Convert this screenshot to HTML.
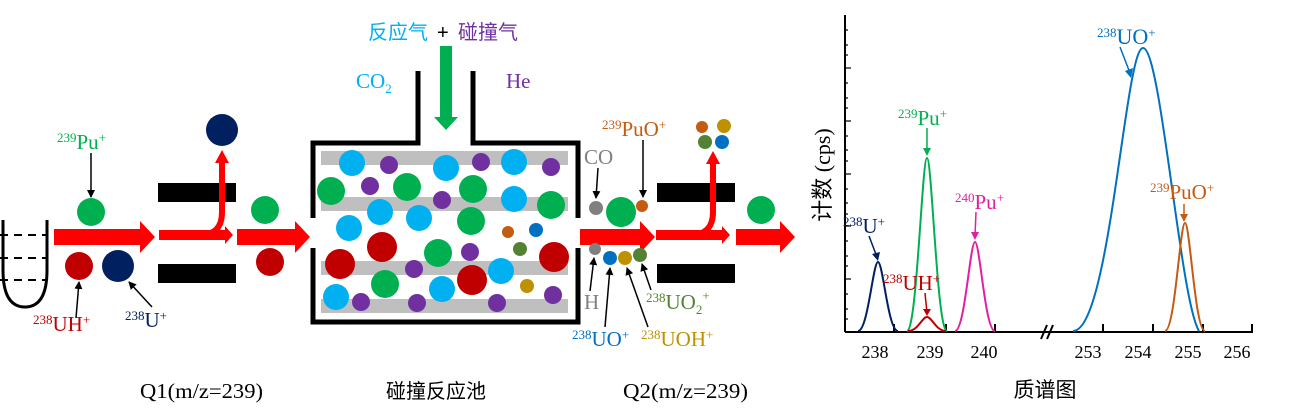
<!DOCTYPE html>
<html><head><meta charset="utf-8"><style>
html,body{margin:0;padding:0;background:#fff;}
svg{display:block;}
text{font-family:"Liberation Serif","Noto Serif CJK SC",serif;}
.cjk{font-family:"Liberation Sans","Noto Sans CJK SC",sans-serif;}
</style></head><body>
<svg width="1302" height="417" viewBox="0 0 1302 417" xmlns="http://www.w3.org/2000/svg">
<defs>
<marker id="ak" markerWidth="8" markerHeight="8" refX="7" refY="4" orient="auto" markerUnits="userSpaceOnUse"><path d="M0,0 L8,4 L0,8 z" fill="#000"/></marker>
</defs>
<path d="M3,220 L3,270 Q3,307 25,307 Q47,307 47,270 L47,220" fill="none" stroke="#000" stroke-width="3"/>
<g stroke="#000" stroke-width="2" stroke-dasharray="8,6"><line x1="0" y1="235" x2="46" y2="235"/><line x1="0" y1="258" x2="46" y2="258"/><line x1="0" y1="280" x2="46" y2="280"/></g>
<path d="M54,229 L140,229 L140,221 L155,237 L140,253 L140,245 L54,245 z" fill="#f00"/>
<circle cx="91" cy="212" r="14" fill="#00b050"/>
<circle cx="79" cy="266" r="14" fill="#c00000"/>
<circle cx="118" cy="266" r="16" fill="#002060"/>
<text x="57" y="149" font-size="21" fill="#00b050"><tspan font-size="13" dy="-7">239</tspan><tspan dy="7">Pu</tspan><tspan font-size="13" dy="-7">+</tspan></text>
<line x1="91" y1="153" x2="91" y2="197" stroke="#000" stroke-width="1.5" marker-end="url(#ak)"/>
<line x1="76" y1="318" x2="79" y2="282" stroke="#000" stroke-width="1.5" marker-end="url(#ak)"/>
<line x1="152" y1="307" x2="129" y2="282" stroke="#000" stroke-width="1.5" marker-end="url(#ak)"/>
<text x="33" y="331" font-size="21" fill="#c00000"><tspan font-size="13" dy="-7">238</tspan><tspan dy="7">UH</tspan><tspan font-size="13" dy="-7">+</tspan></text>
<text x="125" y="327" font-size="21" fill="#002060"><tspan font-size="13" dy="-7">238</tspan><tspan dy="7">U</tspan><tspan font-size="13" dy="-7">+</tspan></text>
<rect x="158" y="183" width="78" height="19" fill="#000"/>
<rect x="158" y="264" width="78" height="19" fill="#000"/>
<path d="M159,230 L225,230 L225,226 L233,235 L225,244 L225,240 L159,240 z" fill="#f00"/>
<path d="M200,235 Q222,235 222,212 L222,160" fill="none" stroke="#f00" stroke-width="6"/>
<path d="M215,163 L222,150 L229,163 z" fill="#f00"/>
<circle cx="222" cy="130" r="16" fill="#002060"/>
<path d="M237,229 L295,229 L295,221 L310,237 L295,253 L295,245 L237,245 z" fill="#f00"/>
<circle cx="265" cy="210" r="14" fill="#00b050"/>
<circle cx="270" cy="262" r="14" fill="#c00000"/>
<text x="368" y="39" font-size="20" fill="#00b0f0" class="cjk">反应气</text>
<text x="437" y="39" font-size="20" fill="#000" class="cjk">+</text>
<text x="458" y="39" font-size="20" fill="#7030a0" class="cjk">碰撞气</text>
<path d="M440,46 L452,46 L452,117 L458,117 L446,130 L434,117 L440,117 z" fill="#00b050"/>
<text x="356" y="88" font-size="21" fill="#00b0f0">CO<tspan font-size="13" dy="5">2</tspan></text>
<text x="506" y="88" font-size="21" fill="#7030a0">He</text>
<path d="M313,218 L313,143 L418,143 L418,71 M473,71 L473,143 L578,143 L578,218 M578,248 L578,322 L313,322 L313,248" fill="none" stroke="#000" stroke-width="5"/>
<g fill="#bfbfbf"><rect x="321" y="151" width="247" height="14"/><rect x="321" y="197" width="247" height="14"/><rect x="321" y="261" width="247" height="14"/><rect x="321" y="299" width="247" height="14"/></g>
<g fill="#00b0f0"><circle cx="352" cy="163" r="13"/><circle cx="446" cy="168" r="13"/><circle cx="514" cy="162" r="13"/><circle cx="514" cy="199" r="13"/><circle cx="380" cy="212" r="13"/><circle cx="419" cy="218" r="13"/><circle cx="349" cy="228" r="13"/><circle cx="501" cy="271" r="13"/><circle cx="442" cy="289" r="13"/><circle cx="336" cy="297" r="13"/></g>
<g fill="#7030a0"><circle cx="389" cy="165" r="9"/><circle cx="481" cy="162" r="9"/><circle cx="551" cy="167" r="9"/><circle cx="370" cy="186" r="9"/><circle cx="442" cy="200" r="9"/><circle cx="470" cy="252" r="9"/><circle cx="414" cy="269" r="9"/><circle cx="361" cy="302" r="9"/><circle cx="417" cy="303" r="9"/><circle cx="497" cy="303" r="9"/><circle cx="553" cy="295" r="9"/></g>
<g fill="#00b050"><circle cx="331" cy="191" r="14"/><circle cx="407" cy="187" r="14"/><circle cx="473" cy="189" r="14"/><circle cx="551" cy="205" r="14"/><circle cx="471" cy="221" r="14"/><circle cx="438" cy="253" r="14"/><circle cx="385" cy="284" r="14"/></g>
<g fill="#c00000"><circle cx="382" cy="247" r="15"/><circle cx="554" cy="257" r="15"/><circle cx="340" cy="264" r="15"/><circle cx="472" cy="280" r="15"/></g>
<circle cx="508" cy="232" r="6" fill="#c55a11"/>
<circle cx="536" cy="230" r="7" fill="#0070c0"/>
<circle cx="520" cy="249" r="7" fill="#548235"/>
<circle cx="527" cy="286" r="7" fill="#bf9000"/>
<path d="M580,229 L640,229 L640,221 L655,237 L640,253 L640,245 L580,245 z" fill="#f00"/>
<circle cx="596" cy="208" r="7" fill="#808080"/>
<circle cx="621" cy="212" r="15" fill="#00b050"/>
<circle cx="642" cy="206" r="6" fill="#c55a11"/>
<circle cx="595" cy="249" r="6" fill="#808080"/>
<circle cx="610" cy="258" r="7" fill="#0070c0"/>
<circle cx="625" cy="258" r="7" fill="#bf9000"/>
<circle cx="640" cy="255" r="7" fill="#548235"/>
<text x="584" y="164" font-size="21" fill="#808080">CO</text>
<line x1="598" y1="168" x2="596" y2="198" stroke="#000" stroke-width="1.5" marker-end="url(#ak)"/>
<text x="602" y="136" font-size="21" fill="#c55a11"><tspan font-size="13" dy="-7">239</tspan><tspan dy="7">PuO</tspan><tspan font-size="13" dy="-7">+</tspan></text>
<line x1="643" y1="140" x2="643" y2="197" stroke="#000" stroke-width="1.5" marker-end="url(#ak)"/>
<text x="584" y="309" font-size="21" fill="#808080">H</text>
<line x1="590" y1="291" x2="594" y2="258" stroke="#000" stroke-width="1.5" marker-end="url(#ak)"/>
<text x="572" y="346" font-size="21" fill="#0070c0"><tspan font-size="13" dy="-7">238</tspan><tspan dy="7">UO</tspan><tspan font-size="13" dy="-7">+</tspan></text>
<line x1="605" y1="327" x2="610" y2="268" stroke="#000" stroke-width="1.5" marker-end="url(#ak)"/>
<text x="641" y="346" font-size="21" fill="#bf9000"><tspan font-size="13" dy="-7">238</tspan><tspan dy="7">UOH</tspan><tspan font-size="13" dy="-7">+</tspan></text>
<line x1="648" y1="327" x2="627" y2="268" stroke="#000" stroke-width="1.5" marker-end="url(#ak)"/>
<text x="646" y="309" font-size="21" fill="#548235"><tspan font-size="13" dy="-7">238</tspan><tspan dy="7">UO</tspan><tspan font-size="13" dy="5">2</tspan><tspan font-size="13" dy="-14">+</tspan></text>
<line x1="651" y1="290" x2="642" y2="264" stroke="#000" stroke-width="1.5" marker-end="url(#ak)"/>
<rect x="657" y="183" width="78" height="19" fill="#000"/>
<rect x="657" y="264" width="78" height="19" fill="#000"/>
<path d="M656,230 L722,230 L722,226 L730,235 L722,244 L722,240 L656,240 z" fill="#f00"/>
<path d="M690,235 Q713,235 713,212 L713,162" fill="none" stroke="#f00" stroke-width="6"/>
<path d="M706,164 L713,151 L720,164 z" fill="#f00"/>
<circle cx="702" cy="127" r="6" fill="#c55a11"/>
<circle cx="724" cy="126" r="7" fill="#bf9000"/>
<circle cx="705" cy="142" r="7" fill="#548235"/>
<circle cx="722" cy="142" r="7" fill="#0070c0"/>
<path d="M736,229 L780,229 L780,221 L795,237 L780,253 L780,245 L736,245 z" fill="#f00"/>
<circle cx="761" cy="210" r="14" fill="#00b050"/>
<text x="140" y="398" font-size="21" textLength="123" lengthAdjust="spacingAndGlyphs">Q1(m/z=239)</text>
<text x="386" y="398" font-size="20" class="cjk">碰撞反应池</text>
<text x="623" y="398" font-size="21" textLength="125" lengthAdjust="spacingAndGlyphs">Q2(m/z=239)</text>
<g stroke="#000" stroke-width="2" fill="none">
<line x1="845" y1="15" x2="845" y2="332"/>
<line x1="845" y1="332" x2="1253" y2="332"/>
<line x1="894" y1="332" x2="894" y2="324"/><line x1="946" y1="332" x2="946" y2="324"/><line x1="995" y1="332" x2="995" y2="324"/>
<line x1="1103" y1="332" x2="1103" y2="324"/><line x1="1153" y1="332" x2="1153" y2="324"/><line x1="1203" y1="332" x2="1203" y2="324"/><line x1="1252" y1="332" x2="1252" y2="324"/>
<line x1="1041" y1="339" x2="1047" y2="325"/><line x1="1047" y1="339" x2="1053" y2="325"/>
</g>
<g stroke="#000" stroke-width="1.2">
<line x1="845" y1="68" x2="851" y2="68"/><line x1="845" y1="121" x2="851" y2="121"/><line x1="845" y1="174" x2="851" y2="174"/><line x1="845" y1="226" x2="851" y2="226"/><line x1="845" y1="279" x2="851" y2="279"/>
<line x1="845" y1="30" x2="848" y2="30"/><line x1="845" y1="45" x2="848" y2="45"/><line x1="845" y1="55" x2="848" y2="55"/><line x1="845" y1="83" x2="848" y2="83"/><line x1="845" y1="98" x2="848" y2="98"/><line x1="845" y1="108" x2="848" y2="108"/><line x1="845" y1="136" x2="848" y2="136"/><line x1="845" y1="150" x2="848" y2="150"/><line x1="845" y1="161" x2="848" y2="161"/><line x1="845" y1="189" x2="848" y2="189"/><line x1="845" y1="203" x2="848" y2="203"/><line x1="845" y1="214" x2="848" y2="214"/><line x1="845" y1="241" x2="848" y2="241"/><line x1="845" y1="256" x2="848" y2="256"/><line x1="845" y1="266" x2="848" y2="266"/><line x1="845" y1="294" x2="848" y2="294"/><line x1="845" y1="309" x2="848" y2="309"/><line x1="845" y1="319" x2="848" y2="319"/>
</g>
<g font-size="18" text-anchor="middle">
<text x="875" y="358">238</text><text x="930" y="358">239</text><text x="984" y="358">240</text>
<text x="1088" y="358">253</text><text x="1138" y="358">254</text><text x="1188" y="358">255</text><text x="1237" y="358">256</text>
</g>
<text x="1045" y="397" font-size="21" text-anchor="middle" class="cjk">质谱图</text>
<text transform="translate(830,175) rotate(-90)" font-size="22" text-anchor="middle"><tspan class="cjk">计数</tspan> (cps)</text>
<g fill="none" stroke-width="2">
<path d="M858,331 C868,331 873,262 878,262 S888,331 898,331" stroke="#002060"/>
<path d="M907,331 C917,331 922,158 927,158 S937,331 947,331" stroke="#00b050"/>
<path d="M908,331 C918,331 922,317 927,317 S936,331 946,331" stroke="#c00000"/>
<path d="M955,331 C965,331 970,242 975,242 S985,331 995,331" stroke="#e020a0"/>
<path d="M1073,331 C1110,331 1125,48 1143,48 S1180,300 1199,331" stroke="#0070c0"/>
<path d="M1165,331 C1175,331 1180,223 1185,223 S1195,331 1205,331" stroke="#c55a11"/>
</g>
<text x="843" y="233" font-size="21" fill="#002060"><tspan font-size="13" dy="-7">238</tspan><tspan dy="7">U</tspan><tspan font-size="13" dy="-7">+</tspan></text>
<line x1="869" y1="236" x2="877" y2="257" stroke="#002060" stroke-width="1.5"/><path d="M872,254 L878,261 L880,252 z" fill="#002060"/>
<text x="883" y="290" font-size="21" fill="#c00000"><tspan font-size="13" dy="-7">238</tspan><tspan dy="7">UH</tspan><tspan font-size="13" dy="-7">+</tspan></text>
<line x1="925" y1="293" x2="927" y2="313" stroke="#c00000" stroke-width="1.5"/><path d="M923,309 L927,316 L931,309 z" fill="#c00000"/>
<text x="898" y="125" font-size="21" fill="#00b050"><tspan font-size="13" dy="-7">239</tspan><tspan dy="7">Pu</tspan><tspan font-size="13" dy="-7">+</tspan></text>
<line x1="927" y1="128" x2="927" y2="152" stroke="#00b050" stroke-width="1.5"/><path d="M923,148 L927,156 L931,148 z" fill="#00b050"/>
<text x="955" y="209" font-size="21" fill="#e020a0"><tspan font-size="13" dy="-7">240</tspan><tspan dy="7">Pu</tspan><tspan font-size="13" dy="-7">+</tspan></text>
<line x1="976" y1="212" x2="975" y2="236" stroke="#e020a0" stroke-width="1.5"/><path d="M971,232 L975,240 L979,232 z" fill="#e020a0"/>
<text x="1097" y="44" font-size="22" fill="#0070c0"><tspan font-size="13" dy="-7">238</tspan><tspan dy="7">UO</tspan><tspan font-size="13" dy="-7">+</tspan></text>
<line x1="1120" y1="47" x2="1130" y2="73" stroke="#0070c0" stroke-width="1.5"/><path d="M1125,71 L1131,78 L1133,68 z" fill="#0070c0"/>
<text x="1150" y="199" font-size="21" fill="#c55a11"><tspan font-size="13" dy="-7">239</tspan><tspan dy="7">PuO</tspan><tspan font-size="13" dy="-7">+</tspan></text>
<line x1="1184" y1="204" x2="1184" y2="217" stroke="#c55a11" stroke-width="1.5"/><path d="M1180,214 L1184,222 L1188,214 z" fill="#c55a11"/>
</svg>
</body></html>
